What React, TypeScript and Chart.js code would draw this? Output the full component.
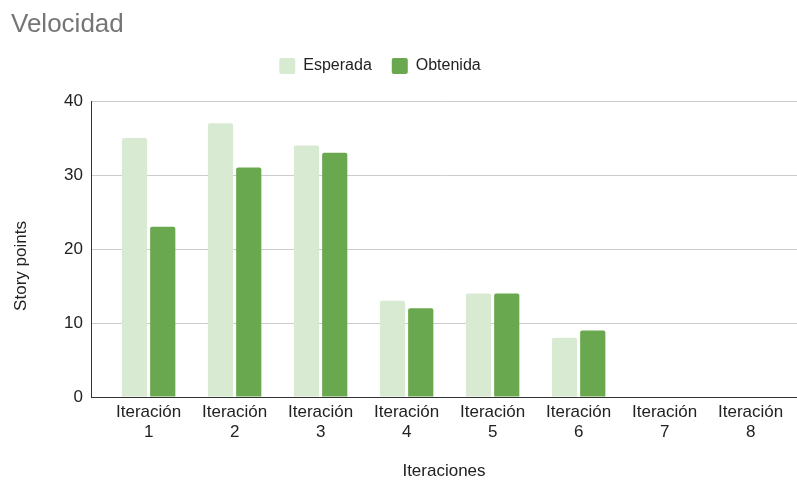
import React, { useEffect, useRef } from 'react';
import { Chart, registerables } from 'chart.js';

Chart.register(...registerables);

// Iterations on the horizontal axis
const categories = [
  'Iteración 1',
  'Iteración 2',
  'Iteración 3',
  'Iteración 4',
  'Iteración 5',
  'Iteración 6',
  'Iteración 7',
  'Iteración 8',
];

// Story points per iteration (iterations 7 and 8 have no data yet)
const esperada: (number | null)[] = [35, 37, 34, 13, 14, 8, null, null];
const obtenida: (number | null)[] = [23, 31, 33, 12, 14, 9, null, null];

// Vertical axis ticks
const yTicks = [0, 10, 20, 30, 40];

const FONT = "'Liberation Sans', Arial, Helvetica, sans-serif";
const TEXT = '#222222';
const Y_TITLE = 'Story points';

// Extra room under the legend, a small horizontal nudge of the legend row,
// and the vertical axis title centred on the plot plus its category labels.
const layoutTweaks = {
  id: 'layoutTweaks',
  afterInit(chart: any) {
    const legend = chart.legend;
    if (legend && !legend._gapPatched) {
      const fit = legend.fit;
      legend.fit = function (this: any) {
        fit.call(this);
        this.height += 17;
      };
      legend._gapPatched = true;
    }
  },
  afterLayout(chart: any) {
    const legend = chart.legend;
    if (legend) {
      legend.left -= 24;
      legend.right -= 24;
    }
  },
  afterDraw(chart: any) {
    const { ctx, chartArea, scales } = chart;
    const yScale = scales.y;
    const size = 17;
    const cx = yScale.left + (size * 1.2) / 2;
    const cy = (chartArea.top + chartArea.bottom) / 2 + 17;
    ctx.save();
    ctx.translate(cx, cy);
    ctx.rotate(-Math.PI / 2);
    ctx.font = `${size}px ${FONT}`;
    ctx.fillStyle = TEXT;
    ctx.textAlign = 'center';
    ctx.textBaseline = 'middle';
    ctx.fillText(Y_TITLE, 0, 0);
    ctx.restore();
  },
};

export default function App() {
  const canvasRef = useRef<HTMLCanvasElement>(null);

  useEffect(() => {
    if (!canvasRef.current) return;
    const axisFont = { family: FONT, size: 17 };
    const legendFont = { family: FONT, size: 16 };
    const chart = new Chart(canvasRef.current, {
      type: 'bar',
      data: {
        datasets: [
          {
            label: 'Esperada',
            data: esperada.map((v, i) => ({ x: i + 1, y: v })),
            backgroundColor: '#d9ead3',
            borderWidth: 0,
            borderRadius: 2,
            barPercentage: 0.894,
            categoryPercentage: 0.656,
          },
          {
            label: 'Obtenida',
            data: obtenida.map((v, i) => ({ x: i + 1, y: v })),
            backgroundColor: '#6aa84f',
            borderWidth: 0,
            borderRadius: 2,
            barPercentage: 0.894,
            categoryPercentage: 0.656,
          },
        ] as any,
      },
      options: {
        responsive: false,
        animation: false,
        layout: { padding: { left: 11, right: 0, top: 0, bottom: 0 } },
        plugins: {
          title: {
            display: true,
            text: 'Velocidad',
            align: 'start',
            color: '#757575',
            font: { family: FONT, size: 26, weight: 'normal', lineHeight: 1 },
            padding: { top: 12, bottom: 0 },
          },
          legend: {
            position: 'top',
            align: 'center',
            labels: {
              boxWidth: 16,
              boxHeight: 16,
              padding: 20,
              color: TEXT,
              font: legendFont,
              useBorderRadius: true,
              borderRadius: 2,
            },
          },
          tooltip: { enabled: false },
        },
        scales: {
          x: {
            type: 'linear',
            offset: false,
            min: 0.33,
            max: 8.539,
            grid: { display: false, drawTicks: false, offset: false },
            border: { display: true, color: '#333333', width: 1 },
            afterBuildTicks: (scale: any) => {
              scale.ticks = categories.map((_, i) => ({ value: i + 1 }));
            },
            afterFit: (scale: any) => {
              scale.height = 85;
            },
            ticks: {
              autoSkip: false,
              maxRotation: 0,
              minRotation: 0,
              padding: 5,
              color: TEXT,
              font: axisFont,
              callback: (value: any) => {
                const c = categories[Math.round(Number(value)) - 1];
                return c ? c.split(' ') : '';
              },
            },
            title: {
              display: true,
              text: 'Iteraciones',
              color: TEXT,
              font: axisFont,
              padding: { top: 0, bottom: 0 },
            },
          },
          y: {
            min: 0,
            max: 40,
            afterBuildTicks: (scale: any) => {
              scale.ticks = yTicks.map((v) => ({ value: v }));
            },
            afterFit: (scale: any) => {
              scale.width = 80;
            },
            grid: {
              drawTicks: false,
              color: (ctx: any) => (ctx.tick && ctx.tick.value === 0 ? '#333333' : '#cccccc'),
            },
            border: { display: true, color: '#333333', width: 1 },
            ticks: { padding: 8, color: TEXT, font: axisFont },
            title: { display: false },
          },
        },
      } as any,
      plugins: [layoutTweaks],
    });
    return () => chart.destroy();
  }, []);

  return (
    <div style={{ position: 'absolute', left: 0, top: 0, width: 797, height: 482, background: '#ffffff' }}>
      <canvas ref={canvasRef} width={797} height={482} style={{ display: 'block' }} />
    </div>
  );
}
